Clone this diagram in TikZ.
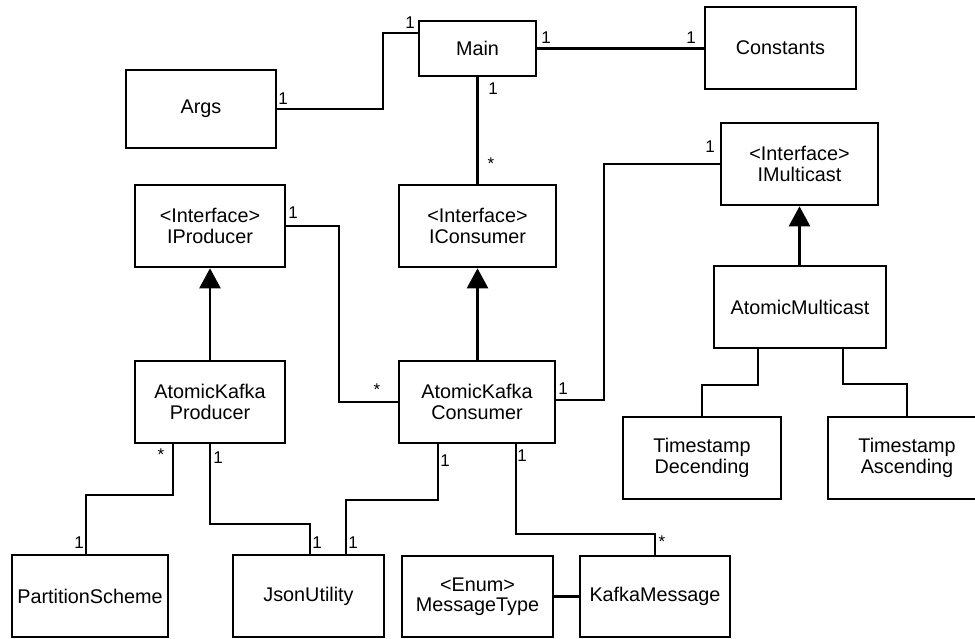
\documentclass[tikz,border=0pt]{standalone}
\usepackage{fontspec}
\setmainfont{Liberation Sans}
\usetikzlibrary{arrows.meta}
\begin{document}
\begin{tikzpicture}[x=1pt,y=-1pt,
  cls/.style={draw=black, line width=2.6pt, fill=white, align=center,
    font=\fontsize{19.8}{20.5}\selectfont, inner sep=0pt, minimum height=82pt},
  assoc/.style={draw=black, line width=2.4pt},
  inherit/.style={assoc, -{Triangle[length=20pt,width=21pt]}},
  mult/.style={font=\fontsize{17}{17}\selectfont, inner sep=0pt},
]
\clip (0,0) rectangle (975,639);
\fill[white] (0,0) rectangle (975,639);

% classes
\node[cls, minimum width=150pt, minimum height=78pt] (args) at (201,109) {Args};
\node[cls, minimum width=117pt, minimum height=55pt] (main) at (477.5,48.5) {Main};
\node[cls, minimum width=151pt] (constants) at (780.5,48) {Constants};
\node[cls, minimum width=157pt] (imulticast) at (799.5,164) {<Interface>\\IMulticast};
\node[cls, minimum width=150pt] (iproducer) at (210,226) {<Interface>\\IProducer};
\node[cls, minimum width=157pt] (iconsumer) at (477.5,226) {<Interface>\\IConsumer};
\node[cls, minimum width=172pt] (amulticast) at (800,307) {AtomicMulticast};
\node[cls, minimum width=150pt] (akproducer) at (210,402) {AtomicKafka\\Producer};
\node[cls, minimum width=156pt] (akconsumer) at (477,402) {AtomicKafka\\Consumer};
\node[cls, minimum width=158pt] (tsdesc) at (702,458) {Timestamp\\Decending};
\node[cls, minimum width=158pt] (tsasc) at (907,458) {Timestamp\\Ascending};
\node[cls, minimum width=156pt] (partition) at (90,596) {PartitionScheme};
\node[cls, minimum width=151pt] (json) at (308.5,596) {JsonUtility};
\node[cls, minimum width=151pt, minimum height=81pt] (msgtype) at (477.5,596.5) {<Enum>\\MessageType};
\node[cls, minimum width=150pt, minimum height=81pt] (kafkamsg) at (655,596.5) {KafkaMessage};

% associations
\draw[assoc] (args.east) -| ([xshift=-35pt,yshift=15.5pt]main.west) -- ([yshift=15.5pt]main.west);
\draw[assoc] (main.east) -- (main.east -| constants.west);
\draw[assoc] (main.south) -- (iconsumer.north);
\draw[assoc] (iproducer.east) -| ([xshift=-59pt]akconsumer.west) -- (akconsumer.west);
\draw[assoc] ([yshift=2pt]akconsumer.east) -| ([xshift=-116pt]imulticast.west) -- (imulticast.west);
\draw[assoc] ([xshift=-42pt]amulticast.south) |- ([yshift=31pt]tsdesc.north) -- (tsdesc.north);
\draw[assoc] ([xshift=43pt]amulticast.south) |- ([yshift=32pt]tsasc.north) -- (tsasc.north);
\draw[assoc] ([xshift=-37pt]akproducer.south) |- ([xshift=-4pt,yshift=59pt]partition.north) -- ([xshift=-4pt]partition.north);
\draw[assoc] (akproducer.south) |- ([xshift=1.5pt,yshift=30pt]json.north) -- ([xshift=1.5pt]json.north);
\draw[assoc] ([xshift=-39pt]akconsumer.south) |- ([xshift=37.5pt,yshift=54pt]json.north) -- ([xshift=37.5pt]json.north);
\draw[assoc] ([xshift=39pt]akconsumer.south) |- ([yshift=21pt]kafkamsg.north) -- (kafkamsg.north);
\draw[assoc] (msgtype.east) -- (kafkamsg.west);

% generalisations
\draw[inherit] (akproducer.north) -- (iproducer.south);
\draw[inherit] (akconsumer.north -| iconsumer.south) -- (iconsumer.south);
\draw[inherit] (amulticast.north -| imulticast.south) -- (imulticast.south);

% multiplicities
\node[mult] (mArgs) at (283,99) {1};
\node[mult] (mMainW) at (410,23) {1};
\node[mult] (mMainE) at (546,38) {1};
\node[mult] (mConst) at (691,38) {1};
\node[mult] (mMainS) at (493,89) {1};
\node[mult] (mICons) at (491,164) {*};
\node[mult] (mIProd) at (293,213) {1};
\node[mult] (mConsW) at (377,390) {*};
\node[mult] (mConsE) at (563,389) {1};
\node[mult] (mIMult) at (710,147) {1};
\node[mult] (mProdA) at (161,455) {*};
\node[mult] (mProdB) at (218,458) {1};
\node[mult] (mPart) at (79,543) {1};
\node[mult] (mJsonA) at (317,543) {1};
\node[mult] (mJsonB) at (353,543) {1};
\node[mult] (mConsA) at (445,461) {1};
\node[mult] (mConsB) at (522,456) {1};
\node[mult] (mKafka) at (662,542) {*};
\end{tikzpicture}
\end{document}
